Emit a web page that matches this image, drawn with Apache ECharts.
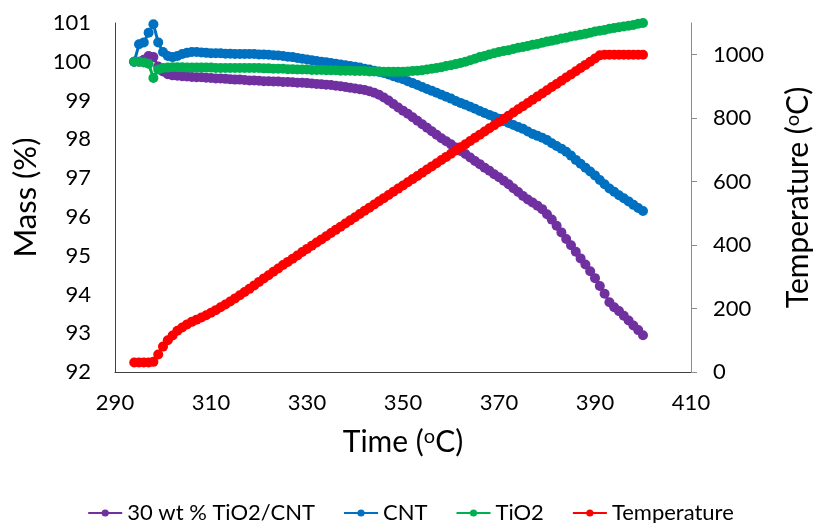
<!DOCTYPE html>
<html>
<head>
<meta charset="utf-8">
<script src="https://cdn.jsdelivr.net/npm/echarts@6/dist/echarts.min.js"></script>
<style>
  html, body { margin: 0; padding: 0; background: #fff; }
  #chart { width: 821px; height: 523px; }
</style>
</head>
<body>
<div id="chart"></div>
<script>
// Sample times (x axis)
const time = [
  294, 295, 296, 297, 298, 299, 300, 301, 302, 303, 304, 305, 306, 307, 308, 309,
  310, 311, 312, 313, 314, 315, 316, 317, 318, 319, 320, 321, 322, 323, 324, 325,
  326, 327, 328, 329, 330, 331, 332, 333, 334, 335, 336, 337, 338, 339, 340, 341,
  342, 343, 344, 345, 346, 347, 348, 349, 350, 351, 352, 353, 354, 355, 356, 357,
  358, 359, 360, 361, 362, 363, 364, 365, 366, 367, 368, 369, 370, 371, 372, 373,
  374, 375, 376, 377, 378, 379, 380, 381, 382, 383, 384, 385, 386, 387, 388, 389,
  390, 391, 392, 393, 394, 395, 396, 397, 398, 399, 400
];

// Mass (%) of the 30 wt % TiO2/CNT composite
const massComposite = [
  100.0, 100.0, 100.05, 100.15, 100.12, 99.88, 99.75, 99.68, 99.65, 99.64, 99.63, 99.62, 99.61, 99.6, 99.6, 99.59,
  99.58, 99.57, 99.57, 99.56, 99.55, 99.54, 99.54, 99.53, 99.52, 99.52, 99.51, 99.5, 99.5, 99.49, 99.49, 99.48,
  99.48, 99.47, 99.46, 99.46, 99.45, 99.44, 99.43, 99.42, 99.41, 99.4, 99.38, 99.37, 99.35, 99.33, 99.31, 99.29,
  99.27, 99.24, 99.2, 99.15, 99.08, 99.0, 98.91, 98.82, 98.74, 98.66, 98.57, 98.48, 98.39, 98.3, 98.21, 98.12,
  98.03, 97.95, 97.87, 97.79, 97.7, 97.62, 97.53, 97.44, 97.36, 97.27, 97.19, 97.1, 97.02, 96.93, 96.84, 96.74,
  96.64, 96.54, 96.45, 96.37, 96.29, 96.2, 96.07, 95.93, 95.77, 95.6, 95.43, 95.27, 95.1, 94.93, 94.77, 94.6,
  94.42, 94.22, 94.02, 93.8, 93.67, 93.57, 93.45, 93.33, 93.2, 93.08, 92.95
];

// Mass (%) of CNT
const massCNT = [
  100.0, 100.45, 100.5, 100.75, 100.97, 100.5, 100.25, 100.15, 100.12, 100.15, 100.2, 100.23, 100.25, 100.25, 100.24, 100.23,
  100.22, 100.22, 100.22, 100.21, 100.21, 100.2, 100.2, 100.2, 100.2, 100.2, 100.19, 100.19, 100.18, 100.17, 100.16, 100.15,
  100.13, 100.12, 100.1, 100.08, 100.06, 100.04, 100.02, 100.0, 99.99, 99.97, 99.95, 99.93, 99.91, 99.89, 99.87, 99.85,
  99.82, 99.8, 99.77, 99.74, 99.71, 99.67, 99.63, 99.59, 99.55, 99.5, 99.45, 99.4, 99.35, 99.3, 99.25, 99.2,
  99.15, 99.1, 99.05, 98.99, 98.94, 98.89, 98.84, 98.79, 98.73, 98.68, 98.63, 98.58, 98.53, 98.47, 98.42, 98.37,
  98.32, 98.27, 98.2, 98.14, 98.09, 98.04, 97.98, 97.9, 97.83, 97.76, 97.68, 97.58, 97.47, 97.37, 97.27, 97.17,
  97.07, 96.95, 96.84, 96.73, 96.65, 96.56, 96.48, 96.4, 96.31, 96.23, 96.15
];

// Mass (%) of TiO2
const massTiO2 = [
  100.0, 100.0, 99.98, 99.95, 99.58, 99.8, 99.84, 99.85, 99.86, 99.86, 99.86, 99.85, 99.85, 99.85, 99.85, 99.85,
  99.85, 99.84, 99.84, 99.84, 99.84, 99.84, 99.84, 99.84, 99.84, 99.84, 99.84, 99.83, 99.83, 99.82, 99.82, 99.82,
  99.81, 99.81, 99.8, 99.8, 99.8, 99.79, 99.79, 99.79, 99.78, 99.78, 99.78, 99.77, 99.77, 99.77, 99.76, 99.76,
  99.76, 99.75, 99.75, 99.75, 99.74, 99.74, 99.74, 99.74, 99.74, 99.75, 99.76, 99.77, 99.78, 99.8, 99.82, 99.84,
  99.86, 99.89, 99.91, 99.94, 99.97, 100.0, 100.04, 100.08, 100.12, 100.15, 100.19, 100.22, 100.25, 100.28, 100.3, 100.33,
  100.36, 100.38, 100.41, 100.44, 100.46, 100.49, 100.52, 100.54, 100.57, 100.6, 100.62, 100.65, 100.67, 100.7, 100.72, 100.75,
  100.78, 100.8, 100.82, 100.85, 100.87, 100.89, 100.91, 100.93, 100.95, 100.98, 101.0
];

// Furnace temperature (oC), right axis
const temperature = [
  30, 30, 30, 30, 32, 55, 80, 100, 115, 130, 140, 150, 158, 165, 172, 179,
  187, 195, 204, 213, 222, 232, 242, 252, 262, 273, 284, 295, 305, 316, 326, 337,
  347, 357, 367, 378, 388, 398, 408, 418, 428, 438, 448, 458, 468, 478, 488, 498,
  508, 518, 528, 538, 548, 558, 568, 578, 588, 598, 608, 618, 628, 638, 648, 658,
  668, 678, 688, 698, 708, 718, 728, 738, 748, 758, 768, 778, 788, 798, 808, 818,
  828, 838, 848, 858, 868, 878, 888, 898, 908, 918, 928, 938, 948, 958, 968, 978,
  988, 998, 1000, 1000, 1000, 1000, 1000, 1000, 1000, 1000, 1000
];

// Right-axis tick values
const tempTicks = [0, 200, 400, 600, 800, 1000];

const seriesNames = ['30 wt % TiO2/CNT', 'CNT', 'TiO2', 'Temperature'];
const seriesColors = ['#7030A0', '#0070C0', '#00B050', '#FF0000'];

const FONT = 'Lato, "Open Sans", sans-serif';
const pairs = vals => time.map((t, i) => [t, vals[i]]);

const supRich = {
  sup: { fontSize: 20, fontFamily: FONT, color: '#000', verticalAlign: 'top', padding: [0, 0, 10, 0] }
};

function lineSeries(name, color, vals, axisIndex) {
  return {
    name: name,
    type: 'line',
    yAxisIndex: axisIndex,
    data: pairs(vals),
    symbol: 'circle',
    symbolSize: 10,
    showSymbol: true,
    itemStyle: { color: color },
    lineStyle: { color: color, width: 3 },
    emphasis: { disabled: true }
  };
}

const chart = echarts.init(document.getElementById('chart'), null, { renderer: 'canvas' });
chart.setOption({
  animation: false,
  backgroundColor: '#fff',
  textStyle: { fontFamily: FONT },
  grid: { left: 115, right: 123, top: 23, bottom: 151 },
  legend: {
    data: seriesNames,
    left: 'center',
    top: 497,
    itemWidth: 34,
    itemHeight: 9,
    itemGap: 28,
    textStyle: { fontSize: 22, color: '#000', fontFamily: FONT }
  },
  xAxis: {
    type: 'value',
    min: 290,
    max: 410,
    interval: 20,
    name: 'Time ({sup|o}C)',
    nameLocation: 'middle',
    nameGap: 55,
    nameTextStyle: { fontSize: 30, color: '#000', fontFamily: FONT, rich: supRich },
    axisLine: { show: true, lineStyle: { color: '#404040', width: 1 } },
    axisTick: { show: false },
    splitLine: { show: false },
    axisLabel: { fontSize: 22, color: '#000', margin: 20, fontFamily: FONT }
  },
  yAxis: [
    {
      type: 'value',
      position: 'left',
      min: 92,
      max: 101,
      interval: 1,
      name: 'Mass (%)',
      nameLocation: 'middle',
      nameGap: 66,
      nameTextStyle: { fontSize: 31, color: '#000', fontFamily: FONT },
      axisLine: { show: true, lineStyle: { color: '#404040', width: 1 } },
      axisTick: { show: false },
      splitLine: { show: false },
      axisLabel: { fontSize: 22, color: '#000', margin: 24, fontFamily: FONT }
    },
    {
      type: 'value',
      position: 'right',
      min: 0,
      max: 1100,
      name: 'Temperature ({sup|o}C)',
      nameLocation: 'middle',
      nameGap: 92,
      nameTextStyle: { fontSize: 30, color: '#000', fontFamily: FONT, rich: supRich },
      axisLine: { show: true, lineStyle: { color: '#8c8c8c', width: 1 } },
      axisTick: { show: true, inside: false, length: 6, customValues: tempTicks, lineStyle: { color: '#8c8c8c' } },
      splitLine: { show: false },
      axisLabel: {
        fontSize: 22, color: '#000', margin: 22, fontFamily: FONT,
        customValues: tempTicks,
        formatter: v => String(v)
      }
    }
  ],
  series: [
    lineSeries(seriesNames[0], seriesColors[0], massComposite, 0),
    lineSeries(seriesNames[1], seriesColors[1], massCNT, 0),
    lineSeries(seriesNames[2], seriesColors[2], massTiO2, 0),
    lineSeries(seriesNames[3], seriesColors[3], temperature, 1)
  ]
});
</script>
</body>
</html>
